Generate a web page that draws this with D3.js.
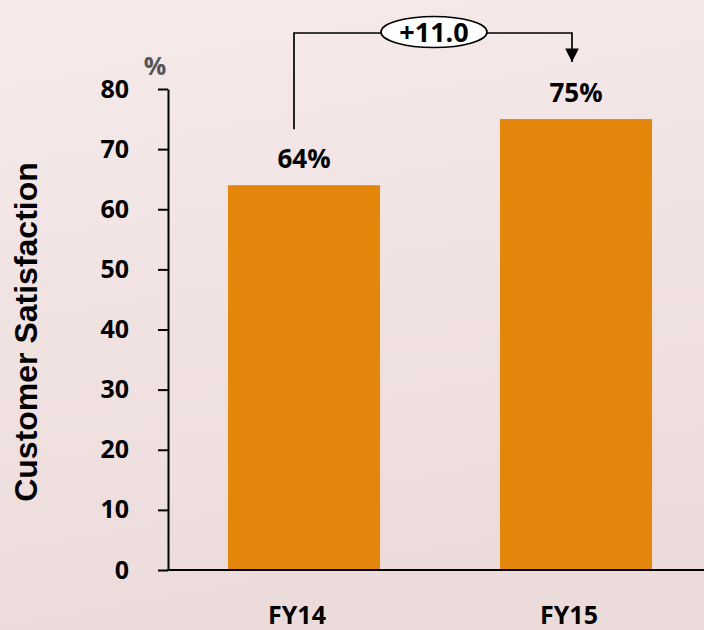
<!DOCTYPE html>
<html>
<head>
<meta charset="utf-8">
<script src="https://cdn.jsdelivr.net/npm/d3@7"></script>
<style>
  html, body { margin: 0; padding: 0; }
  body { width: 704px; height: 630px; overflow: hidden; }
  .label { font-family: "Open Sans", Lato, sans-serif; font-weight: 700; }
</style>
</head>
<body>
<div id="app"></div>
<script>
const categories = ["FY14", "FY15"];
const values = [64, 75];
const yTicks = [0, 10, 20, 30, 40, 50, 60, 70, 80];
const unitLabel = "%";
const yTitle = "Customer Satisfaction";

const width = 704;
const height = 630;
const axisX = 168;
const baseY = 570;

const x = d3.scaleBand()
  .domain(categories)
  .range([axisX, axisX + 544])
  .paddingInner(0.441)
  .paddingOuter(0.2205);

const y = d3.scaleLinear().domain([0, 80]).range([baseY, 89]);

const svg = d3.select("#app")
  .append("svg")
  .attr("width", width)
  .attr("height", height);

// pale pink background
const defs = svg.append("defs");
const bg = defs.append("linearGradient")
  .attr("id", "bg")
  .attr("x1", 0).attr("y1", 0).attr("x2", 0.2).attr("y2", 1);
bg.append("stop").attr("offset", "0%").attr("stop-color", "#f6eaea");
bg.append("stop").attr("offset", "55%").attr("stop-color", "#f1e2e2");
bg.append("stop").attr("offset", "100%").attr("stop-color", "#ecdbdb");

svg.append("rect")
  .attr("width", width)
  .attr("height", height)
  .attr("fill", "url(#bg)");

// bars
svg.append("g")
  .selectAll("rect")
  .data(values)
  .join("rect")
  .attr("x", (d, i) => x(categories[i]))
  .attr("y", (d) => y(d))
  .attr("width", x.bandwidth())
  .attr("height", (d) => y(0) - y(d))
  .attr("fill", "#e3860b");

// y axis
const yAxis = svg.append("g")
  .attr("transform", `translate(${axisX},0)`)
  .call(d3.axisLeft(y).tickValues(yTicks).tickSize(10).tickSizeOuter(0).tickPadding(29));

yAxis.select(".domain").attr("stroke", "#000").attr("stroke-width", 2);
yAxis.selectAll(".tick line").attr("stroke", "#000").attr("stroke-width", 2);
yAxis.selectAll(".tick text")
  .attr("class", "label")
  .attr("fill", "#000")
  .style("font-size", "25px");

// x axis baseline
svg.append("line")
  .attr("x1", axisX - 1)
  .attr("x2", width)
  .attr("y1", baseY)
  .attr("y2", baseY)
  .attr("stroke", "#000")
  .attr("stroke-width", 2);

// category labels
svg.append("g")
  .selectAll("text")
  .data(categories)
  .join("text")
  .attr("class", "label")
  .attr("x", (d) => x(d) + x.bandwidth() / 2 - 7)
  .attr("y", 624)
  .attr("text-anchor", "middle")
  .style("font-size", "25px")
  .attr("fill", "#000")
  .text((d) => d);

// value labels
svg.append("g")
  .selectAll("text")
  .data(values)
  .join("text")
  .attr("class", "label")
  .attr("x", (d, i) => x(categories[i]) + x.bandwidth() / 2)
  .attr("y", (d) => y(d) - 17)
  .attr("text-anchor", "middle")
  .style("font-size", "26px")
  .attr("fill", "#000")
  .text((d) => d + "%");

// unit label
svg.append("text")
  .attr("class", "label")
  .attr("x", 155)
  .attr("y", 75)
  .attr("text-anchor", "middle")
  .style("font-size", "25px")
  .attr("fill", "#555")
  .text(unitLabel);

// y axis title
svg.append("text")
  .attr("transform", "translate(37,332) rotate(-90)")
  .attr("text-anchor", "middle")
  .style("font-family", "'Liberation Sans', Arial, sans-serif")
  .style("font-weight", 700)
  .style("font-size", "32px")
  .attr("fill", "#000")
  .text(yTitle);

// change bracket
const x1 = x(categories[0]) + x.bandwidth() / 2 - 10;
const x2 = x(categories[1]) + x.bandwidth() / 2 - 4;
const topY = 33;
const startY = y(values[0]) - 56;
const tipY = y(values[1]) - 57;
const midX = (x1 + x2) / 2 + 1;

defs.append("marker")
  .attr("id", "arrow")
  .attr("viewBox", "0 0 10 10")
  .attr("refX", 10)
  .attr("refY", 5)
  .attr("markerWidth", 8)
  .attr("markerHeight", 8)
  .attr("markerUnits", "strokeWidth")
  .attr("orient", "auto")
  .append("path")
  .attr("d", "M0,0 L10,5 L0,10 Z")
  .attr("fill", "#000");

svg.append("path")
  .attr("d", `M${x1},${startY} V${topY} H${x2} V${tipY}`)
  .attr("fill", "none")
  .attr("stroke", "#000")
  .attr("stroke-width", 1.7)
  .attr("marker-end", "url(#arrow)");

svg.append("ellipse")
  .attr("cx", midX)
  .attr("cy", topY - 1)
  .attr("rx", 53)
  .attr("ry", 15.5)
  .attr("fill", "#fff")
  .attr("stroke", "#000")
  .attr("stroke-width", 1.7);

svg.append("text")
  .attr("class", "label")
  .attr("x", midX)
  .attr("y", topY + 9)
  .attr("text-anchor", "middle")
  .style("font-size", "27px")
  .attr("fill", "#000")
  .text("+" + (values[1] - values[0]).toFixed(1));
</script>
</body>
</html>
